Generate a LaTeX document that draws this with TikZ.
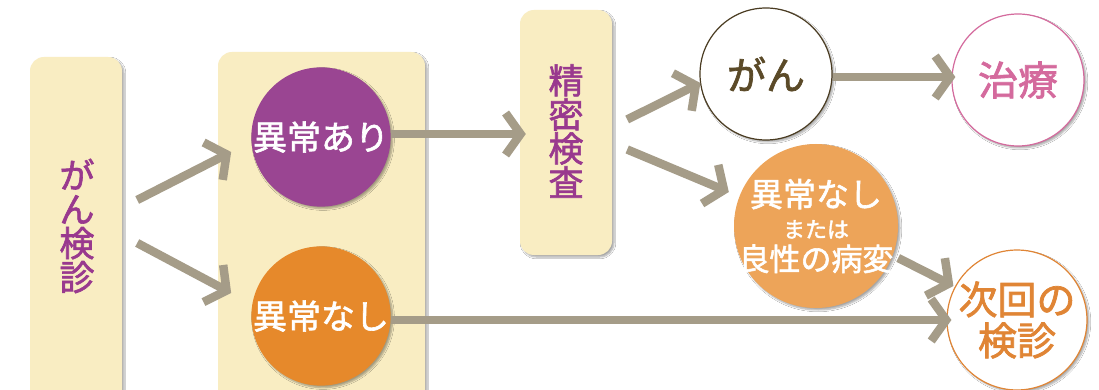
\documentclass[tikz,border=0pt]{standalone}
\usepackage{fontspec}
\newfontfamily\jp[FakeBold=1.8]{Noto Sans CJK JP}
\usetikzlibrary{arrows.meta,shadows.blur,calc}
\definecolor{boxc}{HTML}{F9EDC2}
\definecolor{purc}{HTML}{9A4592}
\definecolor{orc}{HTML}{E6892B}
\definecolor{lorc}{HTML}{EDA459}
\definecolor{arrc}{HTML}{A59C88}
\definecolor{ptxt}{HTML}{99398E}
\definecolor{pink}{HTML}{D46A9D}
\definecolor{jorc}{HTML}{E08535}
\definecolor{ganc}{HTML}{4A3C22}
\definecolor{gantxt}{HTML}{5B4A28}
\tikzset{
  shad/.style={blur shadow={shadow xshift=2pt,shadow yshift=-2pt,shadow blur steps=6,shadow opacity=35}},
  ybox/.style={rectangle,rounded corners=14pt,fill=boxc,shad,inner sep=0pt},
  circ/.style={circle,inner sep=0pt,shad,align=center},
  arr/.style={draw=arrc,line width=8.5pt,-{Straight Barb[length=15pt,width=42pt,line width=8.5pt]}},
  vtext/.style={align=center,font=\jp\fontsize{35}{34}\selectfont,text=ptxt}
}
\begin{document}
\begin{tikzpicture}[x=1pt,y=-1pt]
\clip (0,0) rectangle (1099,390);
\fill[white] (0,0) rectangle (1099,390);
% boxes
\node[ybox,minimum width=92pt,minimum height=350pt] (kenshin) at (76,232) {};
\node[vtext] (kenshintxt) at (77,226) {が\\ん\\検\\診};
\node[ybox,minimum width=207pt,minimum height=360pt] (midbox) at (321.5,232) {};
\node[ybox,minimum width=92pt,minimum height=245pt] (seimitsu) at (566,132.5) {};
\node[vtext] (seimitsutxt) at (566,131) {精\\密\\検\\査};
% circles
\node[circ,fill=purc,minimum size=136pt,text=white,font=\jp\fontsize{34}{35}\selectfont] (ari) at (321,137) {異常あり};
\node[circ,fill=orc,minimum size=134pt,text=white,font=\jp\fontsize{34}{35}\selectfont] (nashi) at (321,316) {異常なし};
\node[circ,fill=white,draw=ganc,line width=1.2pt,minimum size=132pt,text=gantxt,font=\jp\fontsize{39}{40}\selectfont] (gan) at (766,74) {がん};
\node[circ,fill=white,draw=pink,line width=1.2pt,minimum size=132pt,text=pink,font=\jp\fontsize{40}{41}\selectfont] (chiryo) at (1018,80) {治療};
\node[circ,fill=lorc,minimum size=164pt,text=white,font=\jp\fontsize{33}{34}\selectfont] (ryosei) at (816,226) {};
\node[text=white,align=center,font=\jp\fontsize{33}{34}\selectfont,inner sep=0pt] (ryoseitxt) at (ryosei.center)
  {異常なし\\[-3pt]{\fontsize{22}{34}\selectfont または}\\[-1pt]{\fontsize{31}{34}\selectfont 良性の病変}};
\node[circ,fill=white,draw=jorc,line width=1.2pt,minimum size=134pt,text=jorc,font=\jp\fontsize{39}{41}\selectfont] (jikai) at (1017,320) {次回の\\検診};
% connectors
\draw[arr] ($(kenshin.east)+(15,-32)$) -- ($(ari.west)+(-20,15)$);
\draw[arr] ($(kenshin.east)+(15,11)$) -- ($(nashi.west)+(-20,-23)$);
\draw[arr] (ari.east |- 0,134) -- ($(seimitsu.west |- 0,134)+(6,0)$);
\draw[arr] ($(seimitsu.east)+(15,-13)$) -- ($(gan.west)+(1,9)$);
\draw[arr] ($(seimitsu.east)+(15,17)$) -- ($(ryosei.west)+(-5,-34)$);
\draw[arr] (gan.east |- 0,77) -- ($(chiryo.west |- 0,77)+(4,0)$);
\draw[arr] ($(ryosei.east)+(0,32)$) -- ($(jikai.west)+(7,-34)$);
\draw[arr] (nashi.east |- 0,320) -- ($(jikai.west |- 0,320)+(5,0)$);
\end{tikzpicture}
\end{document}
